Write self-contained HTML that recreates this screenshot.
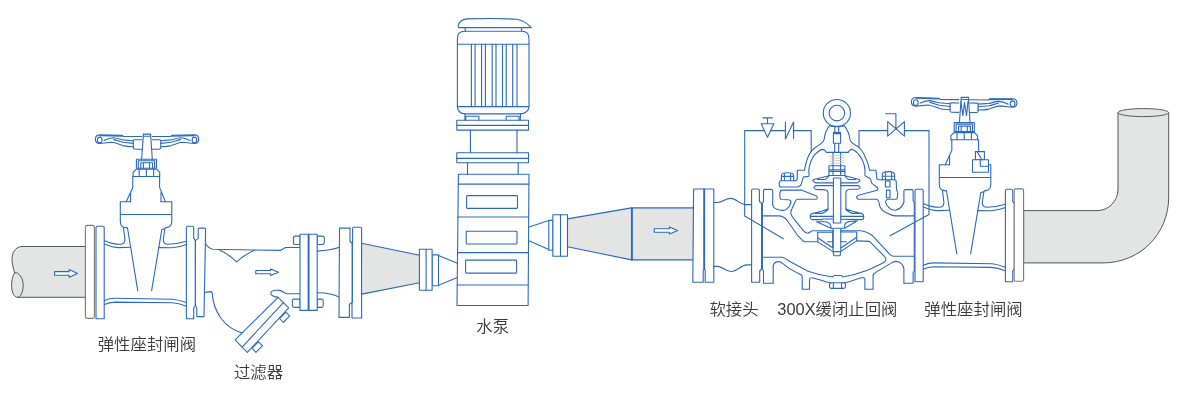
<!DOCTYPE html>
<html lang="zh-CN">
<head>
<meta charset="utf-8">
<title>水泵出口管路安装示意图</title>
<style>
html,body{margin:0;padding:0;background:#fff;}
body{width:1180px;height:410px;overflow:hidden;position:relative;font-family:"Liberation Sans","Noto Sans CJK SC",sans-serif;}
svg{position:absolute;left:0;top:0;display:block;will-change:transform;}
.b{fill:none;stroke:#2a69bd;stroke-width:1.1;stroke-linejoin:round;stroke-linecap:round;}
.bw{fill:#fff;stroke:#2a69bd;stroke-width:1.1;stroke-linejoin:round;}
.bg{fill:#e3e4e4;stroke:#2a69bd;stroke-width:1.1;stroke-linejoin:round;}
.k{fill:none;stroke:#555;stroke-width:1;stroke-linejoin:round;}
.kw{fill:#fff;stroke:#4a4a4a;stroke-width:1;stroke-linejoin:round;}
.kf{fill:#fff;stroke:#7c7a77;stroke-width:1.1;stroke-linejoin:round;}
.kg{fill:#e3e4e4;stroke:#555;stroke-width:1;stroke-linejoin:round;}
.t{font-family:"Liberation Sans","Noto Sans CJK SC",sans-serif;font-weight:350;font-size:16.4px;fill:#3a3a3a;}
</style>
</head>
<body>
<svg width="1180" height="410" viewBox="0 0 1180 410">
<!--INLET-PIPE-->
<g id="inlet">
<path class="kg" d="M85.5,246.5 L22,246.5 C15,247 11.8,253 12,259.7 C12.2,265 13.6,269 14.6,272.8 C12.4,276 11.6,281 11.6,285.2 C11.6,292 14,297.3 17.4,297.3 L85.5,297.3 Z"/>
<path class="k" d="M14.6,272.8 C18.6,271.6 23.2,278 23.2,285.2 C23.2,292 20.6,297.3 17.4,297.3"/>
<rect class="kf" x="85.4" y="225.4" width="9" height="93" rx="1.6"/>
<path class="bw" d="M54.6,271.6 H69.2 V269.6 L77.4,273.4 L69.2,277.2 V275.2 H54.6 Z"/>
</g>
<!--GATE-VALVE-->
<g id="gvw">
<!-- handwheel -->
<g id="gvwh">
<path class="b" d="M141.8,136.5 L123.4,136.5 L122.2,135.3 L99.9,134.9 C97,134.9 95.4,136.8 95.4,139.2 C95.4,141.8 97,143.5 99.9,143.5 L111.7,142.2 C115.4,142.4 118.6,144.2 122.8,145.6 C126,146.4 130,146.6 133.3,146.7"/>
<path class="b" d="M100,135.6 L122,136" style="stroke-width:1.3"/>
<ellipse class="b" cx="99.7" cy="140" rx="2.3" ry="2.9"/>
<path class="b" d="M104,140.4 C107,139 110,138 113.4,137.8 C117,138 120,139.4 122.8,139.9 L133.3,140.8"/>
<path class="b" d="M113.6,139.6 C117,140.2 120,141.8 122.8,142.3 L133.3,143.4"/>
<path class="b" d="M141.8,139.8 H134.4 C133.7,139.8 133.3,140.2 133.3,141 V147.6 C133.3,148.6 134,149.2 135,149.2 H141.8"/>
</g>
<use href="#gvwh" transform="translate(294.1,0) scale(-1,1)"/>
</g>
<g id="gvs">
<!-- stem -->
<path class="b" d="M143.3,136.2 V134.1 H150.7 V136.2 M143.3,136.2 H150.7 M143.3,136.2 L141.6,159.3 M150.7,136.2 L152.3,159.3"/>
<!-- packing nut -->
<rect class="b" x="136.4" y="159.3" width="20.1" height="9"/>
<path class="b" d="M138.3,168.3 V160.8 H154.6 V168.3 M140.8,168.3 V162.8 H152.6 V168.3 M143.4,162.8 V168.3 M149.5,162.8 V168.3"/>
<path class="b" d="M136.2,169.3 L133.1,172.4 V176.5 H159.7 V172.4 L156.8,169.3 Z M139.2,169.3 V176.5 M146.4,169.3 V176.5 M153.6,169.3 V176.5"/>
</g>
<g id="gvb">
<!-- bonnet neck -->
<path class="b" d="M132.8,176.5 V187.4 L126.2,201.7 M159.6,176.5 V187.4 L165.4,201.7 M130.6,192.5 V201.7 M161,192.5 V201.7"/>
<!-- bonnet flange -->
<path class="b" d="M120.3,201.7 H130.6 M161,201.7 H171.8 V221 C171.8,225 170,227.4 166.5,227.6 C165.4,227.7 164.9,228.2 164.8,229 L163.3,239.5 C163.2,242.6 165,244.3 168,244.3 C175,244.2 181,243 186.4,241.3 M120.3,201.7 V221 C120.3,225 122,227.4 125.2,227.6 L127.5,228 M123.5,227.8 L124.9,239.5 C125,242.6 123.2,244.3 120.2,244.3 C114,244.2 109,242.6 104.2,240.4 M120.3,214.5 H171.8"/>
<!-- body -->
<path class="b" d="M127.5,228 L137.8,290.8 M164.8,228.8 L161.8,229.6 L151.6,290.8"/>
<path class="b" d="M104.2,244 C109,246 114,247.6 119,247.6 L130.6,247.3 M159,247.6 L172,247.8 C177,247.6 182,246.3 186.4,244.6"/>
<!-- flanges -->
<path class="bw" d="M96,318.8 V227.8 C96,226.8 96.6,226.3 97.4,226.3 H102.8 C103.6,226.3 104.2,226.8 104.2,227.8 V318.8 Z"/>
<path class="bw" d="M186.4,318.8 V227.8 C186.4,226.8 187,226.3 187.8,226.3 H192.4 C193.2,226.3 193.7,226.8 193.7,227.8 V238.4 L195.4,240.6 V305.5 L193.7,308 V318.8 Z"/>
</g>
<g id="gvbot">
<path class="b" d="M104.4,300.6 C107,299.4 111,298.3 115,298.3 L173,299.2 C178,299.7 182,301 186.4,302.6 M104.4,304.4 C107,303.2 111,302.2 115,302.1 L172,302.8 C177,303.2 182,304.6 186.4,306.2"/>
</g>
<!--FILTER-->
<g id="filter">
<path class="bw" d="M196.8,316.6 V308 L195.4,305.5 V240.6 L198.2,238.4 V229.6 C198.2,228.6 198.8,228.1 199.6,228.1 H204.2 C205,228.1 205.6,228.6 205.6,229.6 L204,316.6 Z"/>
<path class="b" d="M205.6,243.8 C207.5,247 209.5,248.8 213,249.2 L280.3,250.4 L285.6,247.5 H300"/>
<path class="b" d="M218.7,249.4 Q228.4,254 236.6,261.8 Q245.4,254 254.6,250.3"/>
<path class="b" d="M205.6,292.4 L210.4,291.6 C211.6,291.6 212.2,292.2 212.3,293.4 C213.2,312 225,328 241.6,332.8"/>
<path class="bw" d="M252.1,348.2 L258.3,341.8 L262.5,345.6 L255.9,352.4 Z M279.6,318.5 L285.8,312.1 L289.7,315.8 L283.3,322.5 Z"/>
<path class="bw" d="M235.1,339.9 L278.1,297.4 L288.7,307.9 L247.3,352.4 Z"/>
<path class="b" d="M242.4,346.8 L283.4,302.6"/>
<path class="b" d="M278.1,297.4 C272.6,296.6 270.2,294.8 270.8,293 C271.4,290.6 275.6,289.8 279.6,290.4 C282.6,290.9 284.2,293.6 287.4,293.8 H300"/>
<path class="bw" d="M300,236.1 H295 C294,236.1 293.4,236.8 293.4,237.8 V242.8 C293.4,243.8 294,244.5 295,244.5 H300 Z M317.3,236.1 H322.4 C323.6,236.1 324.3,236.8 324.3,237.8 V242.8 C324.3,243.8 323.6,244.5 322.4,244.5 H317.3 Z"/>
<path class="bw" d="M300,299.1 H294.4 C293.2,299.1 292.4,299.8 292.4,300.8 V305.8 C292.4,306.8 293.2,307.4 294.4,307.4 H300 Z M317.3,299.1 H321.6 C322.6,299.1 323.2,299.8 323.2,300.8 V305.8 C323.2,306.8 322.6,307.4 321.6,307.4 H317.3 Z"/>
<rect class="bw" x="300" y="234.2" width="17.2" height="76.2"/>
<path class="b" d="M308.2,234.2 V310.4 M309,234.2 V310.4"/>
<path class="b" d="M317.3,251.1 C326,250.6 333,249.6 339.5,247.3 M317.3,292.7 C326,292.8 334,294 339,297.1"/>
<path class="bw" d="M339.5,228.1 H350 V241.5 L352.2,243.3 V302.5 L349.4,304.3 V317.4 H339 Z"/>
<path class="bw" d="M352.6,243.3 V228.6 C352.6,227.6 353.2,227.2 354,227.2 H360.2 C361,227.2 361.6,227.6 361.6,228.6 V318 H352 V302.5"/>
<path class="b" d="M352.4,243 V302.6"/>
<path class="bw" d="M255.8,270.5 H270.6 V269 L278.5,272.2 L270.6,275.4 V273.8 H255.8 Z"/>
</g>
<!--REDUCER1-->
<g id="red1">
<path class="bg" d="M361.6,243.3 L419.6,255.3 V282.8 L361.6,294.1 Z"/>
<rect class="bw" x="432.1" y="254.9" width="6.4" height="30.9"/>
<rect class="bw" x="419.4" y="249.2" width="12.7" height="41.1"/>
<path class="b" d="M426.1,249.2 V290.3"/>
<path class="b" d="M438.5,255.5 L457.4,263.2 M438.5,285.2 L457.4,277.6"/>
</g>
<!--PUMP-->
<g id="pump">
<path class="b" d="M459.4,27.6 C458.4,27.6 458,26.8 458.3,25.6 C459.2,22 462,19.4 467,18.9 C484,18.4 505,18.6 517,19.2 C523,20.6 528,23.8 531.2,27.6 Z"/>
<path class="b" d="M465.2,27.6 V31.3 M521.6,27.6 V31.3"/>
<path class="b" d="M457.4,106.6 V38.5 C457.4,34 460,31.3 464.5,31.3 H522 C526.4,31.3 529,34 529,38.5 V106.6 C529,110.6 525,113.9 520.4,113.9 H465 C460.4,113.9 457.4,110.6 457.4,106.6 Z"/>
<path class="b" d="M457.4,44.2 H529 M457.4,106.6 H529"/>
<path class="b" d="M471.4,44.4 V106.6 M475.1,44.4 V106.6 M481.6,44.4 V106.6 M485.4,44.4 V106.6 M492.2,44.4 V106.6 M496,44.4 V106.6 M502.5,44.4 V106.6 M506.2,44.4 V106.6 M512.7,44.4 V106.6 M517,44.4 V106.6"/>
<path class="b" d="M464.9,113.9 V120.3 M520.4,113.9 V120.3 M465.8,120.3 V116.2 H478.9 V120.3 M506.2,120.3 V116.2 H519 V120.3"/>
<rect class="b" x="456.8" y="120.3" width="71.7" height="9.8"/>
<path class="b" d="M456.8,125.4 H528.5"/>
<path class="b" d="M470.4,130.1 V152.8 M517,130.1 V152.8"/>
<rect class="b" x="456.8" y="152.8" width="71.7" height="9.9"/>
<path class="b" d="M456.8,158.4 H528.5"/>
<path class="b" d="M467.5,162.7 V174.2 M518.2,162.7 V174.2"/>
<path class="b" d="M458.4,174.2 H529 L528.1,305.5 H457 Z"/>
<path class="b" d="M458.3,184.1 H528.9 M458,217 H528.6 M457.6,252.6 H528.4 M457.2,285 H528.2"/>
<rect class="b" x="466.6" y="195.6" width="50.9" height="12.8" rx="0.8"/>
<rect class="b" x="466.2" y="231.2" width="50.8" height="12.8" rx="0.8"/>
<rect class="b" x="465.6" y="260.1" width="51" height="13" rx="0.8"/>
</g>
<!--REDUCER2-->
<g id="red2">
<path class="b" d="M528.4,227.2 L548.8,220.6 M528.4,240.5 L548.8,249.6"/>
<rect class="bw" x="548.8" y="220.4" width="4.2" height="29.8"/>
<rect class="bw" x="552.9" y="214.8" width="14.6" height="41.5"/>
<path class="b" d="M560.5,214.8 V256.3"/>
<path class="bg" d="M567.5,218.9 L631.5,207.9 H693.6 V259.9 H631.5 L567.5,246.7 Z"/>
<path class="b" d="M631.5,207.9 V259.9 M632.3,207.9 V259.9"/>
<path class="bw" d="M654.3,228.8 H669.4 V227 L677.6,230.5 L669.4,234 V232.2 H654.3 Z"/>
</g>
<!--SOFTJOINT-->
<g id="soft">
<path class="bw" d="M693.6,189 H713.8 V282.3 H705.2 V270.2 L704.2,269 L703.2,270.2 V282.3 H692.8 Z"/>
<path class="b" d="M703.8,189 V269 M704.6,189 V269"/>
<path class="b" d="M713.8,202.5 H718 C722.4,202.2 725.6,198.4 730.5,198.4 C736.4,198.4 739.6,204.4 745,204.6 H751.6"/>
<path class="b" d="M713.8,266.4 H718 C722.6,266.8 725.6,271.5 731,271.5 C737.4,271.5 741,265.2 746.5,264.9 H751.6"/>
</g>
<!--CHECKVALVE-->
<g id="cv">
<!-- lifting ring -->
<circle class="b" cx="836.9" cy="113.1" r="13.6"/>
<circle class="b" cx="836.9" cy="113.1" r="7.8"/>
<path class="b" d="M830.2,126.2 H843.6"/>
<path class="b" d="M829.6,125.6 C826,130 824.6,135 824.2,139 C823.6,143 819.5,144.6 816,147 C814,148.4 812.4,149.8 811.2,151.4 C807.6,156.6 805.6,163 804.5,170.3 H797.3 V179.4 L795.8,180.7"/>
<path class="b" d="M844.2,125.6 C847.8,130 849.4,135 849.8,139 C850.4,143 854.5,144.6 858,146.6 C860,148 862.4,151.4 864.1,154.4 C866.6,159.4 868.6,165 869.8,170.3 H876 L876.8,178.8 L878.8,179.8 H882.3"/>
<path class="b" d="M826.4,152.4 H848 M826.4,152.4 C825.4,150.6 824.4,149.6 823,149.4 C821,149.4 818,151.4 815,154.4 C811.6,158.4 809.6,164 808.8,169.8 C808.6,172.6 809.8,175.6 808.6,176.4 L804,176.9 C802.8,177.2 802.4,179.4 801.9,182.4 C801.4,185 799.4,187 796.4,187 H781.2 C779.8,187 779.3,186.2 779.3,185 V182.4 C779.3,181.4 779.9,180.8 781,180.8 H796"/>
<path class="b" d="M848,152.4 C849,150.6 850,149.6 851.4,149.4 C853.4,149.4 856.4,151.6 859.6,155.6 C862.6,159.6 864.6,165 865,170 L864.9,175.2 C866,177 868.8,177.4 870,178.3 C871.2,179.6 871,181.8 871.8,183 C873.2,185 876.6,186.4 877.7,188 C878.2,189 877.9,189.8 877,190.2 L858.6,195.2 C857,196 856.4,197 856.8,198 C857.2,199 858,199.3 859,199.3 H876.4 C878,199.6 878.6,200.6 878.9,202 L879.8,206.2 C881,209 884,212 888,213.4 C890.6,214.8 893,215.9 895.4,215.9 H914.1"/>
<!-- upper stem -->
<path class="b" d="M834.8,126.2 V132.3 M838.7,126.2 V132.3 M833.4,132.6 H840.6 M833.4,133.6 H840.6 V143.2 H833.4 Z M834.7,143.2 V152.4 M838.7,143.2 V152.4 M833,152.4 V165.7 M840.6,152.4 V165.7"/>
<!-- spring -->
<path d="M829.4,156.4 L844.4,155 M829.4,158.9 L844.4,157.5 M829.4,161.4 L844.4,160 M829.4,163.9 L844.4,162.5" fill="none" stroke="#d2c6ba" stroke-width="0.9"/>
<!-- block -->
<path class="b" d="M828.9,165.7 H844.9 V175.5 H828.9 Z M828.9,169.8 H844.9 M828.9,171.4 H844.9 M833,165.7 V175.5 M840.6,165.7 V175.5"/>
<!-- diaphragm plates -->
<path class="b" d="M828.9,175.7 C824,177.2 818,178.4 813.4,179.6 C812.6,180.2 812.8,181.2 813.6,181.6 L816,182.9 H833.6 M817.6,179.5 H825 C827,178.4 828,177 829,175.8 M844.9,175.7 C850,177.2 855,178.4 859.4,179.6 C860.2,180.2 860,181.2 859.2,181.6 L857,182.9 H840.8 M855.6,179.5 H848.6 C846.6,178.4 845.6,177 844.8,175.8"/>
<path class="b" d="M833.6,185.6 H817 C814.6,185.8 813.6,187 814.2,188.2 C815,189.4 816.6,189.6 818,189.6 H824 C826.6,189.8 828,191 828,193 V209 M840.8,185.6 H857.6 C859.6,185.8 860.4,187 859.8,188.2 C859,189.4 857.6,189.4 856,189.3 H850 C847.4,189.6 845.9,191 845.9,193 V209"/>
<!-- main stem -->
<path class="b" d="M833.4,178 H840.8 M833.4,178 V223 H840.8 V178"/>
<!-- left bolt -->
<path class="b" d="M781.4,180.6 V175.6 C781.4,173.6 783,172.7 787.5,172.7 C792,172.7 793.7,173.6 793.7,175.6 V180.6 M784.4,173.2 V180.6 M790.6,173.2 V180.6 M781.4,176.4 H793.7"/>
<!-- right bolt -->
<path class="b" d="M882.3,179.8 V174.6 C882.3,172.6 884,171.6 888.4,171.6 C893,171.6 894.6,172.6 894.6,174.6 V179.8 Z M885.4,172.2 V179.8 M891.6,172.2 V179.8 M882.3,176.2 H894.6"/>
<path class="b" d="M885.4,180.9 H890 V187 H885.4 Z M886.4,190.1 H890 V197.8 H886.4 Z"/>
<path class="b" d="M894.6,179.8 C895.8,180 896.2,180.6 896.2,181.6 L896.6,190 C897.4,191.4 897.8,192 897.7,193.4 L897.2,198 C897.2,199 896.6,199.3 895.6,199.3 H888.4 C886.4,199.5 885.4,200.6 885.6,202.4 C886,204.4 887,206 888.6,207.4"/>
<!-- body top-left -->
<path class="b" d="M772.7,204.6 C772.8,207 775,209 778.4,209.8 C781,210.4 784.6,210.6 786.2,209.6 C788.6,207.6 790.6,204.4 791.1,201.6 C791,200.4 790,199.8 788.6,199.7 L781.4,199.5 C780.4,199.4 780,198.6 780,197.6 L779.8,193.6 C779.9,191.4 780.8,190.2 782.5,190.1 H801.3 L816.4,196 C817.2,196.4 817.4,197.2 817.3,198.2 C817.2,199 816.6,199.3 815.6,199.3 H797.4 C796.4,199.4 795.8,200 795.4,201.2 L792.1,208.4 C791,210.4 790.4,212 790.8,213.6 C791.4,215.6 793,217.6 794.4,219.6 L803.4,230.6 C804.6,232 806,233.2 807.6,233.2 C809.4,233.2 811,230.7 812.8,230.7 H833.4"/>
<path class="b" d="M763.6,215.9 H778.6 C781.6,216 784.8,217.6 787,220.2 L797.2,234.8 L803.4,241.3 L804.6,241.8 H817.7"/>
<!-- right loop -->
<path class="b" d="M888.6,207.4 C890.6,209.6 893.6,210.6 896,210 C899.6,209 902.8,206 903.9,202"/>
<!-- upper disc -->
<path class="b" d="M828,209 C823,211 817,212.6 812,213.6 C810.4,214.4 810,215.6 810.2,217 C810.4,218.4 811,219.2 812,219.6 H822 M822,219 H833.4 M810.6,216.4 H833.4 M815.6,213.4 H822 C824.6,212.6 826.4,211.4 828,209.6 M845.9,209 C851,211 857,212.6 862,213.6 C863.4,214.4 863.8,215.6 863.8,217 C863.8,218.4 863.4,219.2 862.4,219.6 L840.8,219.2 M840.8,216.4 H863.6 M858.6,213.4 H852 C849.4,212.6 847.6,211.4 845.9,209.6"/>
<path class="b" d="M816.6,221.8 L831,228.2 H844.6 L857.4,220.8 M816.6,221.8 H825.4 C828.4,222.2 830.4,224 831,226.4 V228.2 M857.4,220.8 L848.6,221.6 C846,222.2 844.8,224 844.6,226.2 V228.2"/>
<!-- seat -->
<path class="b" d="M817.7,232.2 V241.9 M832.8,231 V248 M817.7,232.2 H832.8 M817.7,237.8 L833.1,248 M817.7,241.9 L833.1,251.6 M827.4,241.7 H832.8 M840.8,232 H856.7 V240.9 M840.8,241.7 H846.4 M856.7,237.3 L840.8,248 M856.7,240.9 L840.8,251.4"/>
<path class="b" d="M833.1,229 V251.6 L833.8,255.7 H840.1 L840.8,251.6 V229 M833.1,251.6 H840.8"/>
<path class="b" d="M840.8,230.7 H861.3 C865,231.2 869,233 872,235.2 L890,254.6 C891,255.6 892,256.2 893.4,256.2 H914.1"/>
<path class="b" d="M856.7,240.9 L869.5,241.4 L884.4,256.4 C885.8,257.6 886,259.4 885.4,260.8 C884.6,262.2 884,262.6 882.6,263.2 L867.5,270.3 C860,273.2 851,275.6 842.6,277 L841.6,275.5 H834 L833,277 C824,275.6 815,273.6 807.5,270.9 L789,261.1 C786.6,259.2 784.6,257.4 781.4,257.3 H763.6"/>
<!-- bottom outline -->
<path class="b" d="M773.2,266.2 C773.6,263.4 776,261.6 778.8,261.6 C780.4,261.6 781.6,262.6 782.9,263.7 C788,268 795,272 800.6,274.6 C801.8,275.2 802.2,276 802.2,277.2 V289.3 H809.5 V279.6 C809.5,278.4 810.6,277.6 812.2,277.7 C818,279.2 824,281.2 829.6,282.8 H845.4 C851,281.2 857,279 862.4,277.5 C864,277.4 864.9,278.4 864.9,279.6 V289.3 H873.1 V275.4 C873.2,274 874.2,273.2 875.7,272.4 L892,262.6 C893.4,261.8 894.6,261.4 896,261.4 C900,261.6 903.4,264.6 903.9,269 V283.2"/>
<path class="b" d="M831.4,282.8 C830,282.8 829.5,283.4 829.5,284.4 V286.6 C829.5,287.8 830.2,288.4 831.4,288.4 H843.6 C844.8,288.4 845.5,287.8 845.5,286.6 V284.4 C845.5,283.4 844.8,282.8 843.6,282.8 M833.4,282.8 V288.4 M841.6,282.8 V288.4"/>
<!-- flanges -->
<path class="bw" d="M751.6,282.2 V190.4 C751.6,189.4 752.2,189 753,189 H758 C758.8,189 759.4,189.4 759.4,190.4 V201.5 L761.6,203.4 V269 L759.7,271 V282.2 Z"/>
<path class="b" d="M762.4,203.4 L763.5,201.5 V190.8 C763.5,189.8 764.1,189.4 765,189.4 H771.4 C772.2,189.4 772.7,189.8 772.7,190.8 V204.6 M762.4,203.4 V269 L763.5,271 V283.2 H773.2 V266.2"/>
<path class="b" d="M903.9,202 V191 C903.9,190 904.5,189.6 905.4,189.6 H911.8 C912.6,189.6 913.1,190 913.1,191 V200.8 L914.3,202.6 V271 L913.1,272.4 V283.2 H903.9"/>
</g>
<!--GATE-VALVE2-->
<use href="#gvb" transform="translate(819,-37)"/>
<use href="#gvbot" transform="translate(819,-35.4)"/>
<use href="#gvs" transform="translate(817.8,-36.7)"/>
<use href="#gvw" transform="translate(964.3,-36.8) rotate(0.7 0 139.5) scale(1.022,1) translate(-147.15,0)"/>
<g id="gv2extra">
<path class="b" d="M960.9,101.6 L962.9,115.6 L964.5,102.6 L966.5,115.6 L968,101.6"/>
<path class="bw" d="M975.4,151.6 H984.4 V159.8 H975.4 Z"/>
<path class="bw" d="M972.5,159.8 H988.5 V172.3 H972.5 Z"/>
<path class="b" d="M977.3,152 L981.9,159.8 M980.3,159.8 V166.3 H988.5"/>
</g>
<g id="pilot">
<!-- pilot piping -->
<path class="b" d="M783.4,238.8 L744.7,216 V130.6 H764.4 M770.6,130.6 H785.4 M793.6,130.6 H811.2 V151.4"/>
<path class="b" d="M761.2,123.8 H773.8 L767.5,137.2 Z M767.5,123.8 V117.9 M763,117.9 H772.4"/>
<path class="b" d="M785.4,122.1 V139 L793.6,122.1 V138.6"/>
<path class="b" d="M859,147.3 V130.6 H887.7 M904.4,130.6 H929 V214.5 L890,235.8"/>
<path class="b" d="M887.7,121.7 V136.2 L904.4,121.7 V136.2 Z M895.9,129 V113.7 H885.7"/>
</g>
<!--ELBOW-->
<g id="elbow">
<path class="kg" d="M1023.6,210.6 H1097 C1109,210.6 1118,201 1118,189 V112.6 C1118,110.4 1129.4,108.6 1143.4,108.6 C1157.4,108.6 1168.7,110.4 1168.7,112.6 V197 C1168.7,234 1140,262.9 1103,262.9 H1023.6 Z"/>
<path class="k" d="M1118,112.6 C1118,114.8 1129.4,116.6 1143.4,116.6 C1157.4,116.6 1168.7,114.8 1168.7,112.6"/>
<rect class="kf" x="1014.2" y="188.9" width="9.4" height="92.4" rx="1.6"/>
</g>
<!--LABELS-->
<g id="labels">
<text class="t" x="146.9" y="350.3" text-anchor="middle">弹性座封闸阀</text>
<text class="t" x="258.5" y="378" text-anchor="middle">过滤器</text>
<text class="t" x="492.7" y="331.6" text-anchor="middle">水泵</text>
<text class="t" x="734" y="315" text-anchor="middle">软接头</text>
<text class="t" x="837.4" y="315" text-anchor="middle">300X缓闭止回阀</text>
<text class="t" x="973.5" y="315" text-anchor="middle">弹性座封闸阀</text>
</g>
</svg>
</body>
</html>
